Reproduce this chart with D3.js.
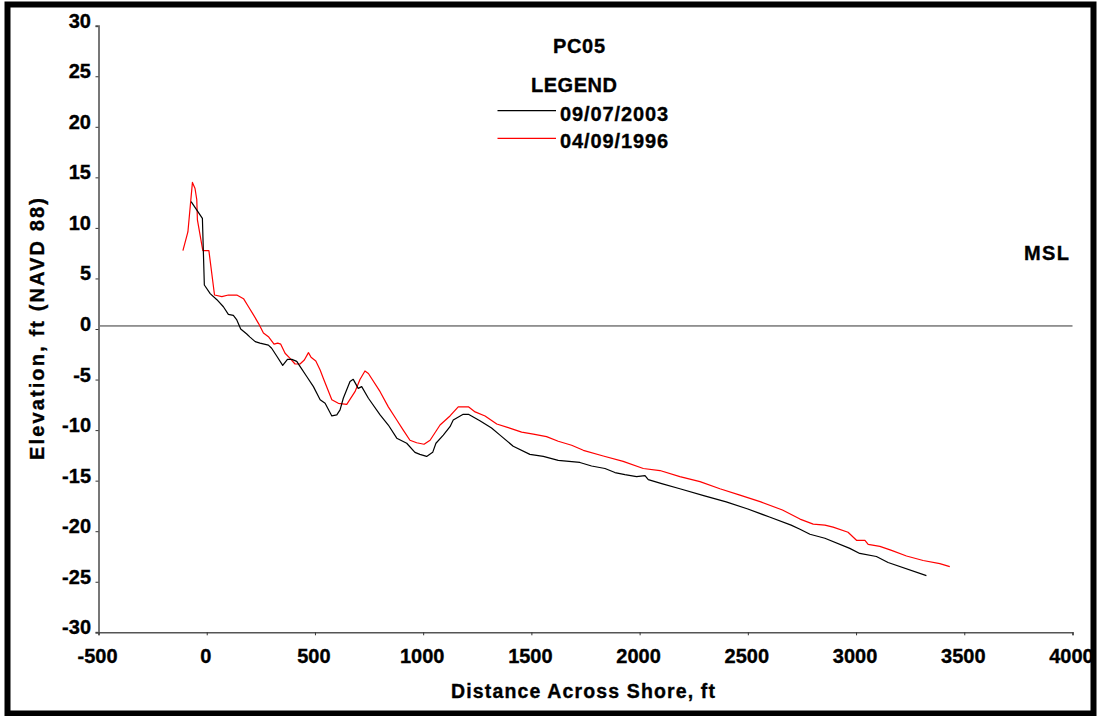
<!DOCTYPE html>
<html>
<head>
<meta charset="utf-8">
<script src="https://cdn.jsdelivr.net/npm/d3@7"></script>
<style>
  html, body { margin: 0; padding: 0; background: #fff; }
  svg { display: block; }
  text { font-family: Arial, "Liberation Sans", sans-serif; font-weight: bold; fill: #000; stroke: #000; stroke-width: 0.35px; }
</style>
</head>
<body>
<svg id="chart" width="1099" height="716"></svg>
<script>
// Beach profile PC05: elevation along the cross-shore distance, two surveys.
const surveyLabels = ["09/07/2003", "04/09/1996"];
const surveyColors = ["#000000", "#ff0000"];

// Survey of 09/07/2003
const dist2003 = [-72, -20, -11, 16, 47, 77, 100, 123, 139, 157, 185, 200, 224, 246, 285, 300, 324, 351,
  373, 393, 416, 431, 462, 493, 524, 547, 578, 601, 616, 631, 662, 677, 700, 716, 747, 801, 839, 878,
  924, 962, 985, 1016, 1044, 1059, 1093, 1124, 1139, 1185, 1209, 1262, 1316, 1355, 1416, 1493, 1555,
  1624, 1724, 1778, 1840, 1886, 1932, 1986, 2025, 2040, 2102, 2186, 2300, 2400, 2500, 2600, 2700,
  2741, 2787, 2856, 2971, 3017, 3094, 3148, 3325];
const elev2003 = [12.6, 10.95, 4.35, 3.5, 2.9, 2.2, 1.45, 1.35, 0.9, 0.0, -0.5, -0.8, -1.25, -1.4, -1.6,
  -1.9, -2.7, -3.6, -3.0, -3.0, -3.2, -3.7, -4.7, -5.7, -7.0, -7.35, -8.6, -8.5, -8.0, -6.85, -5.2,
  -4.98, -5.87, -5.7, -6.85, -8.5, -9.5, -10.8, -11.3, -12.2, -12.4, -12.6, -12.2, -11.3, -10.5,
  -9.66, -9.0, -8.44, -8.44, -9.07, -9.8, -10.5, -11.6, -12.4, -12.6, -13.0, -13.2, -13.55, -13.8,
  -14.2, -14.4, -14.6, -14.5, -14.9, -15.3, -15.8, -16.5, -17.1, -17.8, -18.6, -19.4, -19.8, -20.3,
  -20.7, -21.7, -22.2, -22.5, -23.1, -24.4];

// Survey of 04/09/1996
const dist1996 = [-110, -87, -66, -54, -46, -43, -18, 10, 36, 70, 100, 139, 170, 193, 216, 239, 262, 285,
  311, 328, 342, 362, 385, 408, 431, 451, 470, 482, 504, 524, 539, 578, 608, 647, 685, 708, 731, 747,
  801, 839, 878, 908, 939, 970, 1004, 1032, 1078, 1124, 1162, 1209, 1240, 1286, 1340, 1393, 1455,
  1509, 1570, 1624, 1686, 1740, 1832, 1924, 2017, 2094, 2186, 2279, 2371, 2460, 2560, 2660, 2741,
  2802, 2856, 2894, 2963, 3002, 3041, 3056, 3110, 3164, 3233, 3310, 3387, 3433];
const elev1996 = [7.75, 9.6, 14.5, 13.9, 12.8, 10.8, 7.75, 7.75, 3.36, 3.2, 3.36, 3.36, 3.0, 2.2, 1.4,
  0.56, -0.4, -0.76, -1.5, -1.4, -1.5, -2.4, -2.9, -3.46, -3.46, -3.07, -2.34, -2.8, -3.16, -4.05,
  -4.9, -7.0, -7.35, -7.45, -6.2, -5.0, -4.15, -4.4, -6.2, -7.7, -9.0, -10.0, -11.0, -11.25, -11.4,
  -11.0, -9.5, -8.6, -7.7, -7.7, -8.2, -8.6, -9.4, -9.75, -10.2, -10.4, -10.65, -11.1, -11.5, -12.0,
  -12.56, -13.1, -13.8, -14.0, -14.6, -15.1, -15.8, -16.4, -17.1, -17.9, -18.8, -19.3, -19.4, -19.6,
  -20.1, -20.9, -20.9, -21.3, -21.5, -21.9, -22.45, -22.9, -23.2, -23.5];

// Mean sea level reference line, ft NAVD 88
const mslElevation = [0.3];

const xTicks = [-500, 0, 500, 1000, 1500, 2000, 2500, 3000, 3500, 4000];
const yTicks = [30, 25, 20, 15, 10, 5, 0, -5, -10, -15, -20, -25, -30];

const svg = d3.select("#chart");

// outer frame
svg.append("rect")
  .attr("x", 7.5).attr("y", 4.5)
  .attr("width", 1086).attr("height", 709)
  .attr("fill", "#fff").attr("stroke", "#000").attr("stroke-width", 6);

const x = d3.scaleLinear().domain([-500, 4000]).range([98.5, 1072.5]);
const y = d3.scaleLinear().domain([-30, 30]).range([632.3, 25.7]);

// MSL reference line
svg.append("line")
  .attr("x1", x(-500)).attr("x2", x(4000))
  .attr("y1", y(mslElevation[0])).attr("y2", y(mslElevation[0]))
  .attr("stroke", "#333").attr("stroke-width", 1);

// axes
const yAxis = svg.append("g")
  .attr("transform", `translate(${x(-500)},0)`)
  .call(d3.axisLeft(y).tickValues(yTicks).tickSize(3).tickFormat(""));
yAxis.select(".domain").attr("stroke", "#777").attr("stroke-width", 2);
yAxis.selectAll(".tick line").attr("stroke", "#333");

const xAxis = svg.append("g")
  .attr("transform", `translate(0,${y(-30)})`)
  .call(d3.axisBottom(x).tickValues(xTicks).tickSize(3).tickFormat(""));
xAxis.select(".domain").attr("stroke", "#555").attr("stroke-width", 1.5);
xAxis.selectAll(".tick line").attr("stroke", "#333");

// tick labels
svg.append("g").selectAll("text").data(yTicks).join("text")
  .attr("x", 91).attr("y", d => y(d) + 2)
  .attr("text-anchor", "end").attr("font-size", 20)
  .text(d => d);

svg.append("g").selectAll("text").data(xTicks).join("text")
  .attr("x", d => x(d) - 1).attr("y", 663)
  .attr("text-anchor", "middle").attr("font-size", 20)
  .text(d => d);

// axis titles
svg.append("text")
  .attr("x", 583).attr("y", 698).attr("text-anchor", "middle")
  .attr("font-size", 19.5).attr("textLength", 264).attr("lengthAdjust", "spacing")
  .text("Distance Across Shore, ft");

svg.append("text")
  .attr("transform", "translate(44,329) rotate(-90)")
  .attr("text-anchor", "middle")
  .attr("font-size", 20).attr("textLength", 262).attr("lengthAdjust", "spacing")
  .text("Elevation, ft (NAVD 88)");

// profile lines
const line = d3.line().x(d => x(d[0])).y(d => y(d[1]));
const series = [
  { dist: dist1996, elev: elev1996, color: surveyColors[1] },
  { dist: dist2003, elev: elev2003, color: surveyColors[0] }
];
series.forEach(s => {
  svg.append("path")
    .datum(d3.zip(s.dist, s.elev))
    .attr("fill", "none")
    .attr("stroke", s.color)
    .attr("stroke-width", 1.2)
    .attr("stroke-linejoin", "round")
    .attr("d", line);
});

// title and legend
svg.append("text")
  .attr("x", 579).attr("y", 52.5).attr("text-anchor", "middle")
  .attr("font-size", 20).attr("textLength", 52).attr("lengthAdjust", "spacing")
  .text("PC05");

svg.append("text")
  .attr("x", 574).attr("y", 92).attr("text-anchor", "middle")
  .attr("font-size", 20).attr("textLength", 86).attr("lengthAdjust", "spacing")
  .text("LEGEND");

const legendRows = [110.7, 138.3];
surveyLabels.forEach((label, i) => {
  svg.append("line")
    .attr("x1", 497.5).attr("x2", 556)
    .attr("y1", legendRows[i]).attr("y2", legendRows[i])
    .attr("stroke", surveyColors[i]).attr("stroke-width", 1.2);
  svg.append("text")
    .attr("x", 560).attr("y", legendRows[i] + 10)
    .attr("font-size", 20).attr("textLength", 108).attr("lengthAdjust", "spacing")
    .text(label);
});

svg.append("text")
  .attr("x", 1024).attr("y", 260)
  .attr("font-size", 20).attr("textLength", 45).attr("lengthAdjust", "spacing")
  .text("MSL");
</script>
</body>
</html>
